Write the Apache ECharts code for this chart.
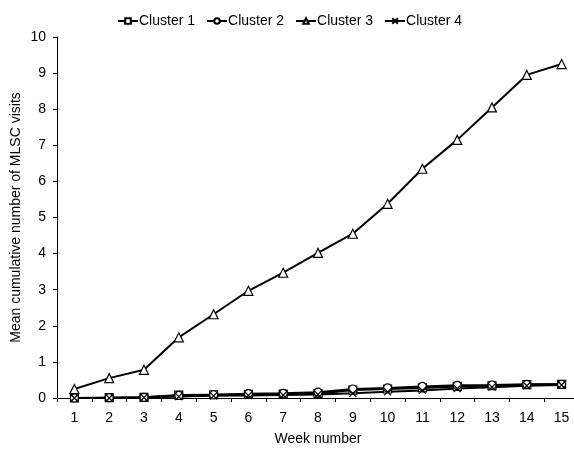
<!DOCTYPE html>
<html><head><meta charset="utf-8">
<script src="https://cdn.jsdelivr.net/npm/echarts@6/dist/echarts.min.js"></script>
<style>html,body{margin:0;padding:0;background:#fff}#c{width:574px;height:450px}</style>
</head><body><div id="c"></div>
<script>
const weeks = ['1','2','3','4','5','6','7','8','9','10','11','12','13','14','15'];
const cluster1 = [0, 0.01, 0.02, 0.08, 0.09, 0.10, 0.11, 0.12, 0.22, 0.25, 0.28, 0.32, 0.34, 0.37, 0.38];
const cluster2 = [0, 0.01, 0.02, 0.07, 0.09, 0.12, 0.13, 0.16, 0.25, 0.28, 0.32, 0.35, 0.36, 0.38, 0.38];
const cluster3 = [0.25, 0.55, 0.78, 1.68, 2.32, 2.97, 3.47, 4.02, 4.55, 5.38, 6.35, 7.15, 8.05, 8.95, 9.25];
const cluster4 = [0, 0, 0.01, 0.04, 0.06, 0.07, 0.08, 0.10, 0.13, 0.17, 0.21, 0.26, 0.30, 0.34, 0.36];
const yTicks = [0,1,2,3,4,5,6,7,8,9,10];

const font = 'Liberation Sans, Arial, Helvetica, sans-serif';
const crossPath = 'path://M0,0L10,10M10,0L0,10';
function mk(name, data, symbol, size){
  return {
    name, type:'line', data, symbol, symbolSize:size, showSymbol:true,
    lineStyle:{color:'#000', width:2},
    itemStyle:{color:'#fff', borderColor:'#000', borderWidth:1.2},
    emphasis:{disabled:true}, animation:false
  };
}
const chart = echarts.init(document.getElementById('c'), null, {renderer:'canvas'});
chart.setOption({
  animation:false,
  textStyle:{fontFamily:font},
  legend:{
    top:9, left:112, itemGap:11, itemWidth:20, itemHeight:7,
    textStyle:{fontFamily:font, fontSize:14, color:'#000', padding:[0,0,0,-4]},
    data:['Cluster 1','Cluster 2','Cluster 3','Cluster 4']
  },
  grid:{left:57, top:37, width:522, height:361, containLabel:false, outerBoundsMode:'none'},
  xAxis:{
    type:'category', data:weeks, boundaryGap:true,
    name:'Week number', nameLocation:'middle', nameGap:34, nameMoveOverlap:false,
    nameTextStyle:{fontFamily:font, fontSize:14, color:'#000'},
    axisLine:{lineStyle:{color:'#000', width:1}},
    axisTick:{show:true, alignWithLabel:false, length:4, lineStyle:{color:'#000'}},
    axisLabel:{fontFamily:font, fontSize:14, color:'#000', margin:13},
    splitLine:{show:false}
  },
  yAxis:{
    type:'value', min:yTicks[0], max:yTicks[yTicks.length-1], interval:1,
    name:'Mean cumulative number of MLSC visits', nameLocation:'middle', nameGap:34, nameMoveOverlap:false,
    nameTextStyle:{fontFamily:font, fontSize:14, color:'#000'},
    axisLine:{show:true, lineStyle:{color:'#000', width:1}},
    axisTick:{show:true, length:4, lineStyle:{color:'#000'}},
    axisLabel:{fontFamily:font, fontSize:14, color:'#000', margin:11},
    splitLine:{show:false}
  },
  series:[
    mk('Cluster 1', cluster1, 'rect', 8),
    mk('Cluster 2', cluster2, 'circle', 8),
    mk('Cluster 3', cluster3, 'triangle', 9),
    Object.assign(mk('Cluster 4', cluster4, crossPath, 7), {itemStyle:{color:'none', borderColor:'#000', borderWidth:1.2}})
  ]
});
</script></body></html>
